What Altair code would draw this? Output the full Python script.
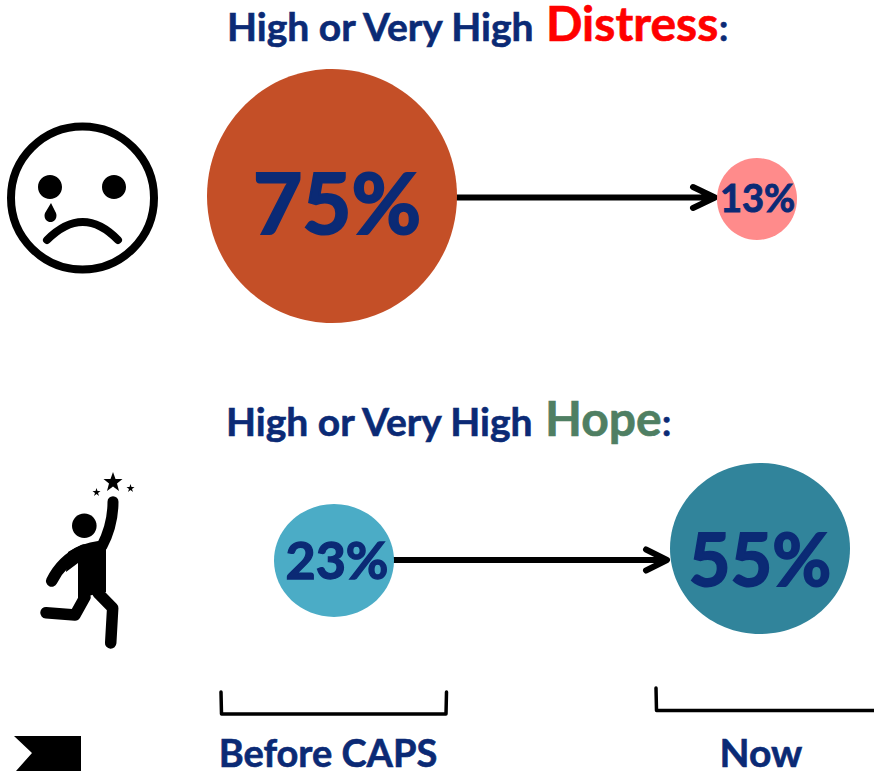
import altair as alt
import pandas as pd

# Survey results: share reporting high or very high levels, before CAPS and now
measures = ["Distress", "Distress", "Hope", "Hope"]
stages = ["Before CAPS", "Now", "Before CAPS", "Now"]
values = [75, 13, 23, 55]
labels = ["75%", "13%", "23%", "55%"]

NAVY = "#0B2A75"
FONT = "Lato"
W, H = 874, 771

colors = ["#C44F27", "#FF8B8B", "#4BACC6", "#31849B"]
# Hand placement of each bubble and label, and the height/width ratio of each bubble
nudge = [(-1, -1), (-2, 2), (1, 6.5), (1, -5.5)]
label_nudge = [(5, 12), (0.5, 2), (3, 2), (0, 15)]
label_size = [85, 38, 52, 72]
aspect = [1.016, 1.025, 0.94, 0.95]


def ellipse(k):
    return f"M-1,0A1,{k},0,1,1,1,0A1,{k},0,1,1,-1,0Z"


table = pd.DataFrame(
    {
        "measure": measures,
        "stage": stages,
        "value": values,
        "label": labels,
        "color": colors,
        "path": [ellipse(k) for k in aspect],
    }
)

x_enc = alt.X(
    "stage:N",
    axis=None,
    scale=alt.Scale(type="point", domain=["Before CAPS", "Now"], range=[333, 759], padding=0),
)
y_enc = alt.Y(
    "measure:N",
    axis=None,
    scale=alt.Scale(type="point", domain=["Distress", "Hope"], range=[197, 554], padding=0),
)
size_enc = alt.Size(
    "value:Q",
    legend=None,
    scale=alt.Scale(type="linear", domain=[13, 23, 55, 75], range=[6400, 14400, 32400, 62500]),
)

layers = []


def drawing(path, filled=True, width=0, color="black"):
    """One pixel-unit vector path; a symbol of size 4 draws its path at scale 1."""
    frame = pd.DataFrame({"path": [path]})
    opts = dict(opacity=1, size=4, strokeCap="round", strokeJoin="round")
    if filled:
        mark = alt.Chart(frame).mark_point(filled=True, fill=color, strokeWidth=width, stroke=color, **opts)
    else:
        mark = alt.Chart(frame).mark_point(filled=False, stroke=color, strokeWidth=width, **opts)
    return mark.encode(
        x=alt.value(0), y=alt.value(0), shape=alt.Shape("path:N", scale=None)
    )


def text(string, x, y, size, color=NAVY, align="left", thick=0.6):
    frame = pd.DataFrame({"t": [string]})
    return (
        alt.Chart(frame)
        .mark_text(
            font=FONT,
            fontWeight="bold",
            fontSize=size,
            color=color,
            stroke=color,
            strokeWidth=thick,
            align=align,
            baseline="alphabetic",
        )
        .encode(x=alt.value(x), y=alt.value(y), text="t:N")
    )


# Connecting arrows go underneath the bubbles
layers.append(drawing("M457,197.5L714,197.5M693,187L715,197.5L693,208", filled=False, width=6))
layers.append(drawing("M393,560L666,560M646,549.5L667,560L646,570.5", filled=False, width=6))

# Bubbles and their percentage labels
for i in range(4):
    row = table.iloc[[i]]
    layers.append(
        alt.Chart(row)
        .mark_point(filled=True, opacity=1, strokeWidth=0, xOffset=nudge[i][0], yOffset=nudge[i][1])
        .encode(
            x=x_enc,
            y=y_enc,
            size=size_enc,
            color=alt.Color("color:N", scale=None),
            shape=alt.Shape("path:N", scale=None),
        )
    )
for i in range(4):
    row = table.iloc[[i]]
    layers.append(
        alt.Chart(row)
        .mark_text(
            font=FONT,
            fontWeight="bold",
            fontSize=label_size[i],
            color=NAVY,
            stroke=NAVY,
            strokeWidth=label_size[i] / 40,
            baseline="middle",
            xOffset=nudge[i][0] + label_nudge[i][0],
            yOffset=nudge[i][1] + label_nudge[i][1],
        )
        .encode(x=x_enc, y=y_enc, text="label:N")
    )

# Headings
layers += [
    text("High or Very High", 227, 41, 39),
    text("Distress", 546, 41, 48, color="#FF0000"),
    text(":", 719, 41, 36),
    text("High or Very High", 226, 436, 39),
    text("Hope", 545, 436, 48, color="#4F7F63"),
    text(":", 662, 436, 36),
    text("Before CAPS", 328, 767, 38, align="center"),
    text("Now", 761, 767, 39, align="center"),
]

# Brackets under the two columns
layers.append(drawing("M221,692L221.5,714L446,714L446.5,692", filled=False, width=3.5))
layers.append(drawing("M656,688L656.5,710.5L874,710.5", filled=False, width=3.5))

# Sad face with a tear
layers.append(drawing("M11,198A71.5,71.5,0,1,1,154,198A71.5,71.5,0,1,1,11,198Z", filled=False, width=8))
layers.append(drawing("M47,240Q83,204,118,240", filled=False, width=8))
layers.append(
    drawing(
        "M38,187A12,12,0,1,1,62,187A12,12,0,1,1,38,187Z"
        "M102,187A12,12,0,1,1,126,187A12,12,0,1,1,102,187Z"
        "M51,203L56,213A6,6.5,0,1,1,45,213Z"
    )
)

# Figure reaching for the stars
layers.append(drawing("M72,525.7A12.3,12.3,0,1,1,96.6,525.7A12.3,12.3,0,1,1,72,525.7Z"))
layers.append(drawing("M106,542L106,592L92,595L78,599L78,563L66,572L68,552Q82,543,98,541Z"))
layers.append(drawing("M113,501.7Q113,525,102,546", filled=False, width=11))
layers.append(drawing("M51.7,581Q62,560,84,550", filled=False, width=11.5))
layers.append(drawing("M85,597L75,615L46,612.7M98,593L112.7,608L110.7,643", filled=False, width=11.5))
layers.append(
    drawing(
        "M113,472L115.5,479L122.5,479L117,483.5L119,491L113,486.5L107,491L109,483.5L103.5,479L110.5,479Z"
        "M96.5,488L97.5,491L100.5,491L98,493L99,496L96.5,494L94,496L95,493L92.5,491L95.5,491Z"
        "M130.5,484L131.5,487L134.5,487L132,489L133,492L130.5,490L128,492L129,489L126.5,487L129.5,487Z"
    )
)

# Ribbon at the lower left
layers.append(drawing("M14,736L81,736L81,771L16,771L32,753Z"))

chart = (
    alt.layer(*layers)
    .properties(width=W, height=H, padding=0, autosize=alt.AutoSizeParams(type="none"), background="white")
    .configure_view(stroke=None)
)

chart.save("out.html", embed_options={"renderer": "svg", "actions": False})
